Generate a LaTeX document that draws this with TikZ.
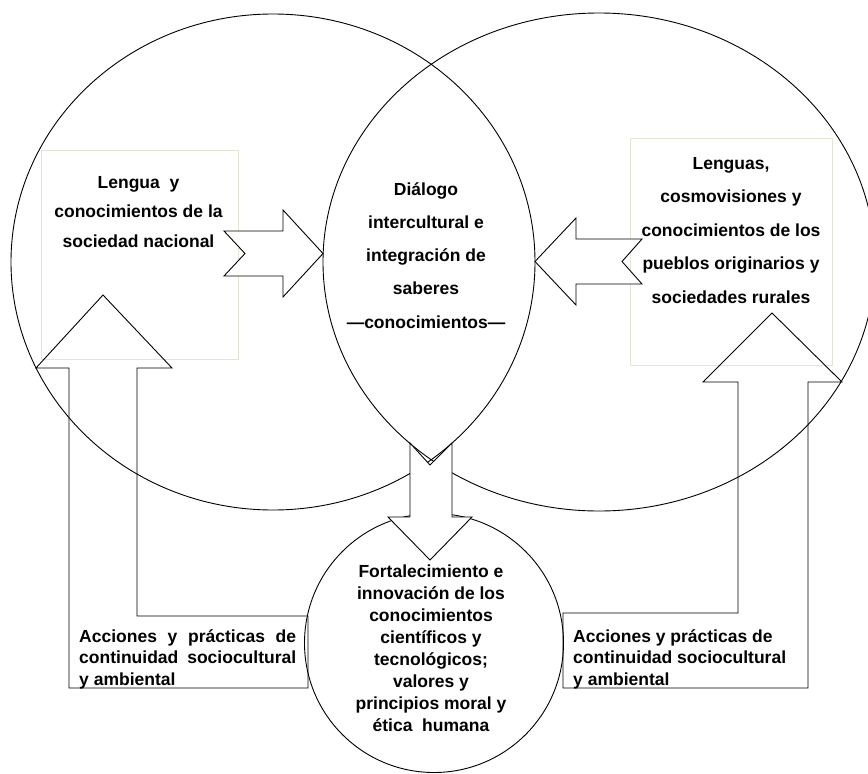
\documentclass[tikz,border=0pt]{standalone}
\usepackage{fontspec}
\setmainfont{Liberation Sans}
\usetikzlibrary{shapes.geometric}
\definecolor{boxline}{RGB}{230,228,212}
\begin{document}
\begin{tikzpicture}[x=1pt,y=-1pt,
  outline/.style={draw=black, line width=0.9pt, line join=miter},
  blockarrow/.style={draw=black, line width=0.9pt, line join=miter, fill=white},
  lightbox/.style={draw=boxline, line width=0.8pt, inner sep=0pt, anchor=north west},
  txt/.style={font=\fontsize{17.5}{21}\selectfont\bfseries, inner sep=0pt, anchor=base},
  txtl/.style={txt, anchor=base west}]
\useasboundingbox (0,0) rectangle (868,774);
\clip (0,0) rectangle (868,774);

% light text frames
\node[lightbox, minimum width=197pt, minimum height=209pt] (boxL) at (41,150) {};
\node[lightbox, minimum width=202pt, minimum height=227pt] (boxR) at (630,138) {};

% bent return arrows (open)
\draw[outline] (103,295) coordinate (tipL) -- (172,368) -- (137,368) -- (137,616) -- (308,616)
  -- (308,688) -- (69,688) -- (69,368) -- (36,368) -- cycle;
\draw[outline] (772,313) coordinate (tipR) -- (842,382) -- (808,382) -- (808,688) -- (563,688)
  -- (563,613) -- (738,613) -- (738,382) -- (703,382) -- cycle;

% circles
\node[ellipse, outline, inner sep=0pt, minimum width=524pt, minimum height=496pt] (cL) at (273,262) {};
\node[ellipse, outline, inner sep=0pt, minimum width=552pt, minimum height=498pt] (cR) at (599,262) {};
\node[circle, outline, inner sep=0pt, minimum size=259pt] (cB) at (434,643) {};

% block arrows into the centre and down
\draw[blockarrow] (224,231) -- (283,231) -- (283,210) -- (323,253.5) -- (283,297) -- (283,276)
  -- (224,276) -- (245,253.5) -- cycle;
\draw[blockarrow] (535,261.5) -- (576,218) -- (576,239) -- (642,239) -- (622,261.5) -- (642,284)
  -- (576,284) -- (576,305) -- cycle;
\draw[blockarrow] (410,443) -- (430,465) -- (452,443) -- (452,517) -- (472,517) -- (430,560)
  -- (388,517) -- (410,517) -- cycle;

% texts
\foreach \t [count=\i from 0] in {Lengua~ y, conocimientos de la, sociedad nacional}
  \node[txt] (tl\i) at (138.5,{188+29.5*\i}) {\t};
\foreach \t [count=\i from 0] in {Diálogo, intercultural e, integración de, saberes, —conocimientos—}
  \node[txt] (tm\i) at (426,{195+33.3*\i}) {\t};
\foreach \t [count=\i from 0] in {{Lenguas,}, cosmovisiones y, conocimientos de los, pueblos originarios y, sociedades rurales}
  \node[txt] (tr\i) at (731,{169.5+33.4*\i}) {\t};
\foreach \t [count=\i from 0] in {Fortalecimiento e, innovación de los, conocimientos, científicos y, tecnológicos;, valores y, principios moral y, ética~ humana}
  \node[txt] (tb\i) at (431,{577+22*\i}) {\t};

\node[txtl] (al0) at (79,642) {\makebox[217pt][s]{Acciones y prácticas de}};
\node[txtl] (al1) at (79,663.5) {\makebox[217pt][s]{continuidad sociocultural}};
\node[txtl] (al2) at (79,685.5) {y ambiental};
\node[txtl] (ar0) at (573,642) {Acciones y prácticas de};
\node[txtl] (ar1) at (573,663.5) {continuidad sociocultural};
\node[txtl] (ar2) at (573,685.5) {y ambiental};
\end{tikzpicture}
\end{document}
